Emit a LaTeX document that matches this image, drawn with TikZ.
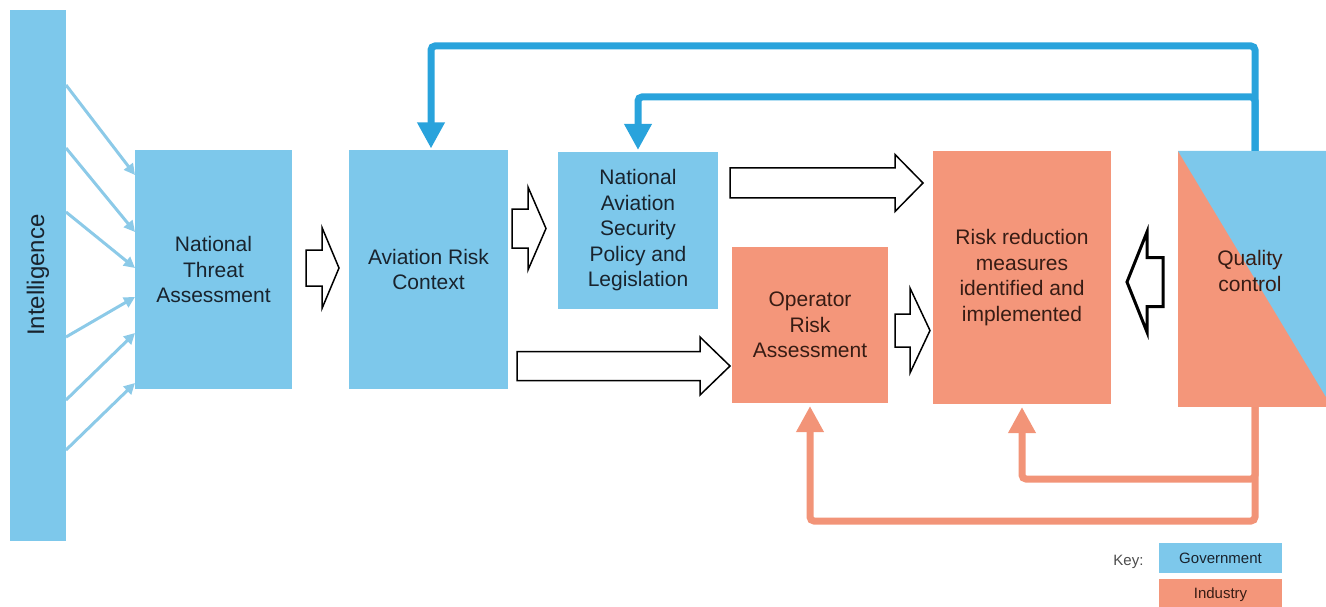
\documentclass[tikz,border=0pt]{standalone}
\usepackage{fontspec}
\setmainfont{Liberation Sans}
\usetikzlibrary{arrows.meta,calc}
\definecolor{govfill}{RGB}{125,200,235}
\definecolor{indfill}{RGB}{244,150,122}
\definecolor{blueline}{RGB}{41,163,220}
\definecolor{salline}{RGB}{242,148,120}
\definecolor{intelblue}{RGB}{140,202,232}
\definecolor{govtext}{RGB}{25,35,45}
\definecolor{indtext}{RGB}{55,28,20}
\newcommand\blockarr[7][]{%
  \draw[hollow,#1] (#2,{#5-#6}) -- (#3,{#5-#6}) -- (#3,{#5-#7}) -- (#4,#5)
    -- (#3,{#5+#7}) -- (#3,{#5+#6}) -- (#2,{#5+#6}) -- cycle;}
\begin{document}
\begin{tikzpicture}[x=1pt,y=-1pt,
  boxbase/.style={draw=none,inner sep=0pt,outer sep=0pt,align=center,
    font=\fontsize{21}{25.5}\selectfont},
  govbox/.style={boxbase,fill=govfill,text=govtext},
  indbox/.style={boxbase,fill=indfill,text=indtext},
  hollow/.style={draw=black,fill=white,line width=1.5pt,line join=miter},
  intelarr/.style={draw=intelblue,line width=3pt,-{Triangle[width=11pt,length=11pt]}},
  fbblue/.style={draw=blueline,line width=7pt,rounded corners=4pt,
    -{Triangle[width=26pt,length=26pt]},shorten >=2pt},
  fbsal/.style={draw=salline,line width=7pt,rounded corners=4pt,
    -{Triangle[width=26pt,length=26pt]},shorten >=3pt},
  keytext/.style={font=\fontsize{15}{17}\selectfont}]
\useasboundingbox (0,0) rectangle (1326,607);
\clip (0,0) rectangle (1326,607);

% Intelligence bar
\node[govbox,minimum width=56pt,minimum height=531pt] (intel) at (38,275.5) {};
\node[rotate=90,text=govtext,font=\fontsize{24}{28}\selectfont,inner sep=0pt] (intelt) at (38,275) {Intelligence};

% main boxes
\node[govbox,minimum width=157pt,minimum height=239pt] (nta) at (213.5,269.5) {National\\Threat\\Assessment};
\node[govbox,minimum width=159pt,minimum height=238pt] (arc) at (428.5,269.5) {Aviation Risk\\Context};
\node[govbox,minimum width=160pt,minimum height=157pt] (nasp) at (638,230.5) {National\\Aviation\\Security\\Policy and\\Legislation};
\node[indbox,minimum width=156pt,minimum height=156pt] (ora) at (810,325) {Operator\\Risk\\Assessment};
\node[indbox,minimum width=178pt,minimum height=253pt] (rrm) at (1022,277.5) {Risk reduction\\measures\\identified and\\implemented};

% Quality control (split)
\node[boxbase,fill=indfill,minimum width=154pt,minimum height=256pt] (qc) at (1255,279) {};
\fill[govfill] (qc.north west) -- (qc.north east) -- (qc.south east) -- cycle;
\node[boxbase,text=indtext] (qct) at (1250,271) {Quality\\control};

% Intelligence arrows
\draw[intelarr] ([yshift=-75pt]intel.north east) -- ([yshift=-25pt]nta.north west);
\draw[intelarr] ([yshift=-138pt]intel.north east) -- ([yshift=-82pt]nta.north west);
\draw[intelarr] ([yshift=-202pt]intel.north east) -- ([yshift=-118pt]nta.north west);
\draw[intelarr] ([yshift=-327pt]intel.north east) -- ([yshift=-147pt]nta.north west);
\draw[intelarr] ([yshift=-390pt]intel.north east) -- ([yshift=-183pt]nta.north west);
\draw[intelarr] ([yshift=-440pt]intel.north east) -- ([yshift=-233pt]nta.north west);

% hollow block arrows: tail x, head base x, tip x, centre y, shaft half, head half
\blockarr{306}{322}{339}{268}{18}{40.5}
\blockarr{512}{528}{546}{228.5}{19.5}{41.5}
\blockarr{517}{700}{730}{366}{14.5}{29}
\blockarr{730}{895}{923}{183}{15}{28.5}
\blockarr{895}{910}{930}{330.5}{16.5}{42.5}
\blockarr[line width=3pt]{1163}{1147}{1127}{282}{24.5}{50}

% feedback loops
\coordinate (topout) at (431,46);
\coordinate (topin) at (638,97);
\coordinate (botout) at (810,521);
\coordinate (botin) at (1022,479);
\draw[fbblue] (qc.north) |- (topout) -- (topout |- arc.north);
\draw[fbblue] (qc.north) |- (topin) -- (topin |- nasp.north);
\draw[fbsal] (qc.south) |- (botout) -- (botout |- ora.south);
\draw[fbsal] (qc.south) |- (botin) -- (botin |- rrm.south);

% key
\node[keytext,text=black!70,anchor=east] (keyl) at (1147,562) {Key:};
\node[boxbase,fill=govfill,text=govtext,minimum width=123pt,minimum height=30pt,keytext] (keyg) at (1220.5,558) {Government};
\node[boxbase,fill=indfill,text=indtext,minimum width=123pt,minimum height=32pt,keytext] (keyi) at (1220.5,595) {Industry};
\end{tikzpicture}
\end{document}
